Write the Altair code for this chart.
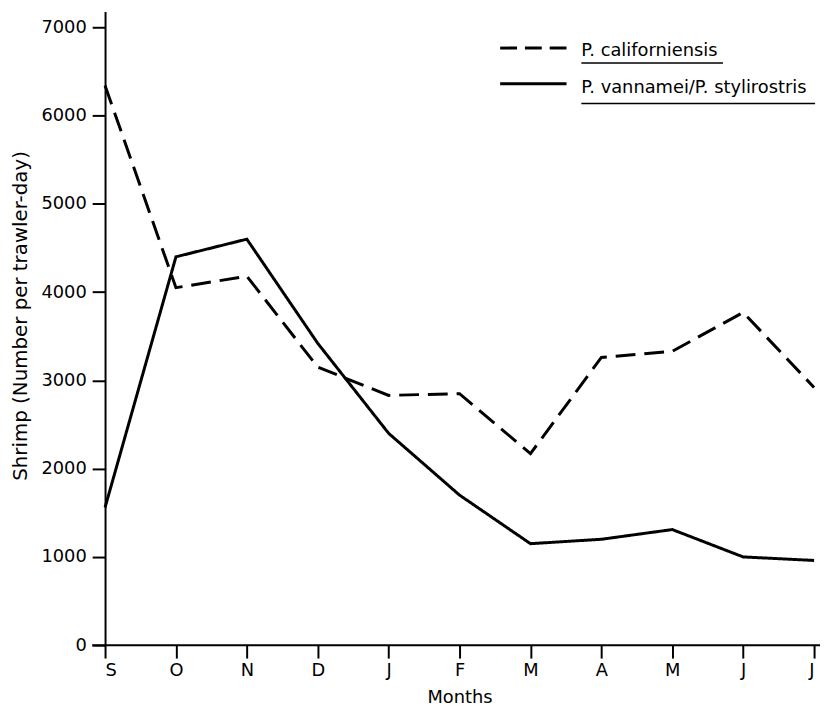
import altair as alt
import pandas as pd

months = ["S", "O", "N", "D", "J", "F", "M", "A", "M", "J", "J"]
californiensis = [6340, 4050, 4180, 3150, 2830, 2850, 2170, 3260, 3330, 3770, 2920]
vannamei = [1560, 4400, 4600, 3420, 2400, 1700, 1150, 1200, 1310, 1000, 960]
series_names = ["P. californiensis", "P. vannamei/P. stylirostris"]
y_ticks = [0, 1000, 2000, 3000, 4000, 5000, 6000, 7000]

rows = []
for i, m in enumerate(months):
    rows.append({"idx": i, "month": m, "series": series_names[0], "value": californiensis[i]})
    rows.append({"idx": i, "month": m, "series": series_names[1], "value": vannamei[i]})
df = pd.DataFrame(rows)

FONT = "DejaVu Sans"
FS = 18
W, H = 716, 640
label_expr = "[" + ",".join("'%s'" % m for m in months) + "][datum.value]"

x_enc = alt.X(
    "idx:Q",
    scale=alt.Scale(domain=[0, len(months) - 1], nice=False, zero=False),
    axis=alt.Axis(
        values=list(range(len(months))),
        labelExpr=label_expr,
        title="Months",
        domain=False,
        grid=False,
        tickSize=13,
        tickWidth=2,
        tickColor="black",
        labelPadding=4,
        labelFont=FONT,
        labelFontSize=FS,
        labelColor="black",
        titleFont=FONT,
        titleFontSize=FS,
        titleFontWeight="normal",
        titleColor="black",
        titleX=358,
        titleY=58,
        titleBaseline="alphabetic",
    ),
)
y_enc = alt.Y(
    "value:Q",
    scale=alt.Scale(domain=[0, 7180], nice=False),
    axis=alt.Axis(
        values=y_ticks,
        format="d",
        title="Shrimp (Number per trawler-day)",
        grid=False,
        domainColor="black",
        domainWidth=2,
        tickSize=13,
        tickWidth=2,
        tickColor="black",
        labelPadding=6,
        labelFont=FONT,
        labelFontSize=FS,
        labelColor="black",
        titleFont=FONT,
        titleFontSize=20,
        titleFontWeight="normal",
        titleColor="black",
        titleAngle=-90,
        titleX=-85,
        titleY=307,
        titleAlign="center",
        titleBaseline="middle",
    ),
)

lines = alt.Chart(df).mark_line(strokeWidth=3, color="black", strokeJoin="miter").encode(
    x=x_enc,
    y=y_enc,
    strokeDash=alt.StrokeDash(
        "series:N",
        scale=alt.Scale(domain=series_names, range=[[20, 9], [1, 0]]),
        legend=None,
    ),
    detail="series:N",
)

baseline = alt.Chart(pd.DataFrame({"a": [0]})).mark_rule(color="black", strokeWidth=2).encode(
    x=alt.value(-13), x2=alt.value(W + 6), y=alt.value(H)
)

# legend
leg_dash = alt.Chart(pd.DataFrame({"a": [0]})).mark_rule(
    color="black", strokeWidth=3, strokeDash=[17, 8]
).encode(x=alt.value(399), x2=alt.value(466), y=alt.value(37))
leg_solid = alt.Chart(pd.DataFrame({"a": [0]})).mark_rule(
    color="black", strokeWidth=3
).encode(x=alt.value(399), x2=alt.value(466), y=alt.value(73))
leg_text1 = alt.Chart(pd.DataFrame({"t": [series_names[0]]})).mark_text(
    font=FONT, fontSize=FS, align="left", baseline="alphabetic", color="black"
).encode(x=alt.value(481), y=alt.value(45), text="t:N")
leg_text2 = alt.Chart(pd.DataFrame({"t": [series_names[1]]})).mark_text(
    font=FONT, fontSize=FS, align="left", baseline="alphabetic", color="black"
).encode(x=alt.value(481), y=alt.value(82), text="t:N")
ul1 = alt.Chart(pd.DataFrame({"a": [0]})).mark_rule(color="black", strokeWidth=1.5).encode(
    x=alt.value(481), x2=alt.value(624), y=alt.value(52)
)
ul2 = alt.Chart(pd.DataFrame({"a": [0]})).mark_rule(color="black", strokeWidth=1.5).encode(
    x=alt.value(481), x2=alt.value(717), y=alt.value(93)
)

chart = alt.layer(
    lines, baseline, leg_dash, leg_solid, leg_text1, leg_text2, ul1, ul2
).properties(
    width=W,
    height=H,
    autosize=alt.AutoSizeParams(type="none"),
    padding={"left": 98, "top": 0, "right": 8, "bottom": 63},
    background="white",
).configure_view(stroke=None)

chart.save("out.html", embed_options={"renderer": "svg", "actions": False})
